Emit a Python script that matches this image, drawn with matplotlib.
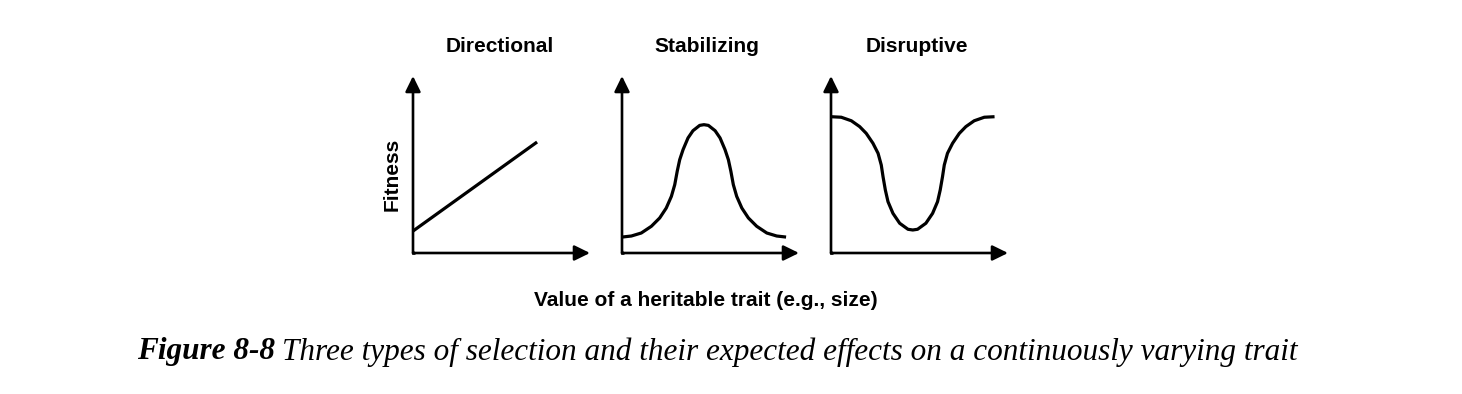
import numpy as np
import matplotlib
matplotlib.use("Agg")
import matplotlib.pyplot as plt

# values, axis length = 100 units
dir_x = [0, 70.1]
dir_y = [12.4, 62.7]

stab_x = [0, 5.3, 10.9, 16.6, 21.3, 25.0, 27.9, 29.8, 31.2, 32.6, 34.5, 37.3, 40.1, 43.9, 46.3,
          48.8, 52.6, 55.4, 58.2, 60.1, 61.5, 62.9, 64.8, 67.7, 71.4, 76.1, 81.8, 87.4, 92.7]
stab_y = [9.0, 9.6, 11.3, 15.1, 19.8, 25.4, 32.0, 38.6, 46.2, 52.7, 58.4, 65.0, 69.1, 72.1, 72.5,
          72.1, 69.1, 65.0, 58.4, 52.7, 46.2, 38.6, 32.0, 25.4, 19.8, 15.1, 11.3, 9.6, 9.0]

disr_x = [0, 5.8, 11.5, 16.2, 19.9, 23.7, 26.6, 28.4, 29.4, 30.7, 32.2, 35.0, 38.8, 43.5, 46.2,
          48.9, 53.6, 57.4, 60.2, 61.7, 63.0, 64.0, 65.8, 68.7, 72.5, 76.2, 80.9, 86.6, 92.4]
disr_y = [77.0, 76.7, 74.7, 71.4, 67.6, 62.0, 56.3, 49.7, 43.1, 35.6, 29.0, 22.4, 16.8, 13.4, 13.0,
          13.4, 16.8, 22.4, 29.0, 35.6, 43.1, 49.7, 56.3, 62.0, 67.6, 71.4, 74.7, 76.7, 77.0]

titles = ["Directional", "Stabilizing", "Disruptive"]
series = [(dir_x, dir_y), (stab_x, stab_y), (disr_x, disr_y)]

W, H = 1462, 394
fig = plt.figure(figsize=(W / 100, H / 100), dpi=100)

origins = [413, 622, 831]   # pixel x of each y-axis
base = 253                  # pixel y of x-axes
size = 177

for x0, title, (xs, ys) in zip(origins, titles, series):
    ax = fig.add_axes([x0 / W, (H - base) / H, size / W, size / H])
    ax.set_xlim(0, 100)
    ax.set_ylim(0, 100)
    ax.axis("off")
    ax.plot(xs, ys, color="black", lw=2.3, clip_on=False,
            solid_joinstyle="round", solid_capstyle="butt")
    arr = dict(arrowstyle="-|>,head_length=0.55,head_width=0.27",
               color="black", lw=1.9, shrinkA=0, shrinkB=0, mutation_scale=17)
    ax.annotate("", xy=(100, 0), xytext=(0, 0), arrowprops=arr,
                annotation_clip=False)
    ax.annotate("", xy=(0, 100), xytext=(0, 0), arrowprops=arr,
                annotation_clip=False)
    # square corner
    ax.plot([0, 0, 1], [1, 0, 0], color="black", lw=1.9, clip_on=False,
            solid_joinstyle="miter", solid_capstyle="butt")

# titles
title_x = [500, 707, 917]
for tx, t in zip(title_x, titles):
    fig.text(tx / W, 1 - 46 / H, t, ha="center", va="center",
             fontsize=15, fontweight="bold", family="Liberation Sans")

fig.text(392 / W, 1 - 174 / H, "Fitness", rotation=90, ha="center",
         va="center", fontsize=15, fontweight="bold", family="Liberation Sans")

fig.text(706 / W, 1 - 300 / H, "Value of a heritable trait (e.g., size)",
         ha="center", va="center", fontsize=15, fontweight="bold",
         family="Liberation Sans")

# caption: bold italic label followed by italic text
r = fig.canvas.get_renderer()
t1 = fig.text(137 / W, 1 - 352 / H, "Figure 8-8", ha="left", va="center",
              fontsize=22.5, fontweight="bold", style="italic",
              family="Liberation Serif")
bb = t1.get_window_extent(renderer=r)
fig.text((bb.x1 + 7) / W, 1 - 352 / H,
         "Three types of selection and their expected effects on a continuously varying trait",
         ha="left", va="center", fontsize=22.5, style="italic",
         family="Liberation Serif")

fig.savefig("out.png", dpi=100)
